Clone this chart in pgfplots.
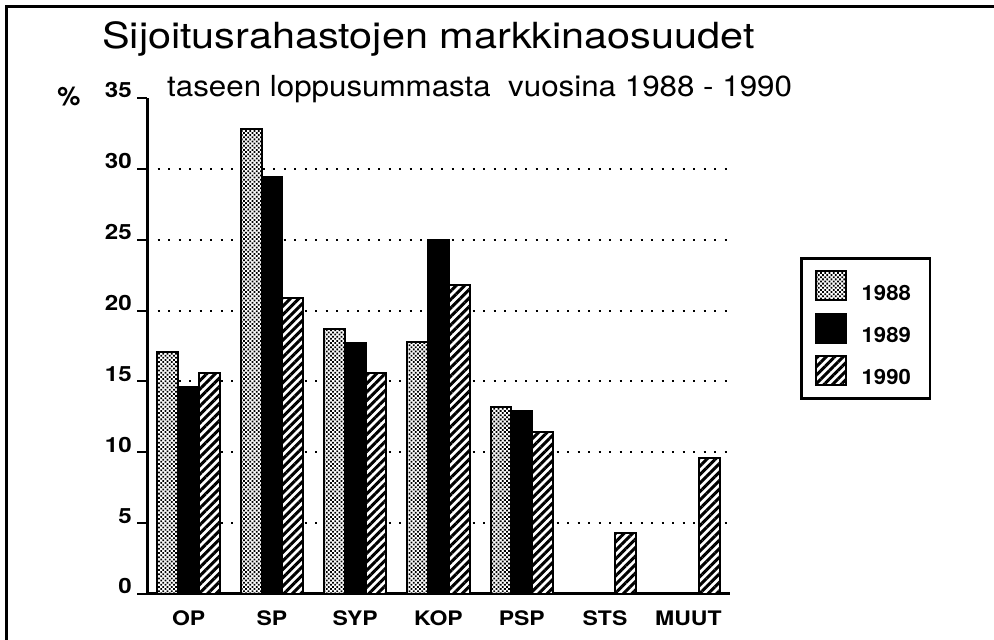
\documentclass[border=0pt]{standalone}
\usepackage{fontspec}
\setmainfont{TeX Gyre Heros}
\newfontfamily\titlefont[FakeStretch=1.15]{TeX Gyre Heros}
\newfontfamily\subfont[FakeStretch=1.08]{TeX Gyre Heros}
\newfontfamily\tickfont[FakeStretch=1.15]{TeX Gyre Heros}
\newfontfamily\legfont[FakeStretch=1.05]{TeX Gyre Heros}
\usepackage{pgfplots}
\pgfplotsset{compat=1.18}
\usetikzlibrary{patterns.meta}
\pgfplotsset{mylegend/.style={legend image code/.code={\draw[##1] (0pt,-7pt) rectangle (30pt,22pt);}}}
\pgfplotstableread{
x y
0 17.1
1 32.8
2 18.7
3 17.8
4 13.2
}\tA
\pgfplotstableread{
x y
0 14.6
1 29.4
2 17.7
3 25.0
4 12.9
}\tB
\pgfplotstableread{
x y
0 15.6
1 20.9
2 15.6
3 21.8
4 11.4
5 4.3
6 9.6
}\tC
\begin{document}
\begin{tikzpicture}
\path[use as bounding box] (0pt,0pt) rectangle (994pt,640pt);
\draw[line width=3pt] (6pt,0pt) -- (6pt,633pt) -- (994pt,633pt);
\node[anchor=base west, inner sep=0] at (102pt,591pt) {\titlefont\fontsize{36}{40}\selectfont Sijoitusrahastojen markkinaosuudet};
\node[anchor=base west, inner sep=0] at (167pt,543pt) {\subfont\fontsize{29}{34}\selectfont taseen loppusummasta\ \ vuosina 1988 - 1990};
\node[inner sep=0] at (69pt,543pt) {\fontsize{26}{30}\selectfont\bfseries\%};
\begin{axis}[
  at={(147pt,46pt)}, anchor=south west,
  scale only axis, width=583pt, height=496pt,
  xmin=-0.5, xmax=6.5, ymin=0, ymax=35,
  axis x line*=bottom, axis y line*=left,
  axis line style={line width=3pt},
  xtick={0,...,6},
  xticklabels={OP,SP,SYP,KOP,PSP,STS,MUUT},
  xtick style={draw=none},
  ytick={0,5,...,35},
  tick align=outside,
  major tick length=10pt,
  ytick style={line width=2pt, black},
  extra y ticks={5,10,...,30},
  extra y tick labels={},
  extra y tick style={grid=major, major tick length=0pt},
  major grid style={line width=2pt, black, dash pattern=on 2pt off 8.5pt},
  /pgf/number format/assume math mode=true,
  yticklabel style={anchor=base east, inner sep=0pt, xshift=-5pt, font=\tickfont\fontsize{21}{25}\selectfont\bfseries},
  xticklabel style={anchor=base, inner sep=0pt, yshift=-21pt, font=\tickfont\fontsize{20}{24}\selectfont\bfseries},
  ybar=0pt, bar width=0.25,
  legend style={at={(axis description cs:1.3448,0.6794)}, anchor=north east,
    draw=black, line width=2.5pt, inner xsep=13pt, inner ysep=12pt,
    row sep=11pt, font=\legfont\fontsize{21}{25}\selectfont\bfseries,
    nodes={inner sep=0pt},
    /tikz/every odd column/.append style={column sep=15pt}},
  legend cell align=left,
]
\addplot[draw=black, line width=2pt, preaction={fill=white}, pattern={Dots[distance=3pt, radius=1.25pt, angle=45]}, bar shift=-0.25, mylegend] table[x=x,y=y] {\tA};
\addplot[draw=black, fill=black, line width=2pt, bar shift=0, mylegend] table[x=x,y=y] {\tB};
\addplot[draw=black, line width=2pt, preaction={fill=white}, pattern={Lines[angle=45, distance=6pt, line width=3pt]}, bar shift=0.25, mylegend] table[x=x,y=y] {\tC};
\legend{1988\hspace*{6pt},1989\hspace*{6pt},1990\hspace*{6pt}}
\end{axis}
\end{tikzpicture}
\end{document}
